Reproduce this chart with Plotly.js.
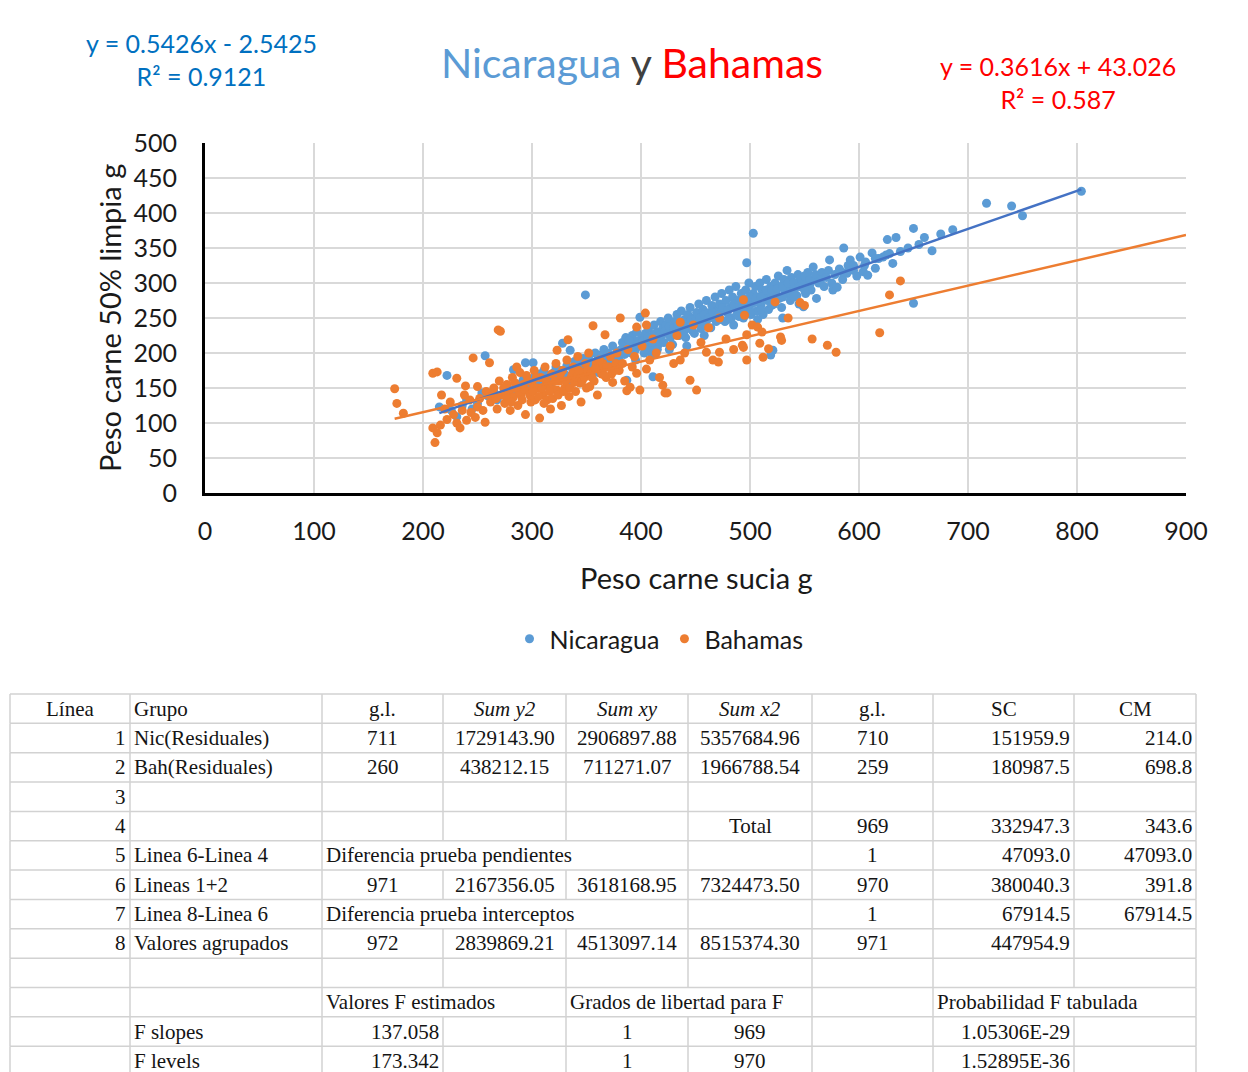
<!DOCTYPE html>
<html>
<head>
<meta charset="utf-8">
<script src="https://cdn.plot.ly/plotly-3.0.1.min.js"></script>
<style>
  html, body { margin: 0; padding: 0; background: #ffffff; }
  #chart { width: 1248px; height: 1072px; }
</style>
</head>
<body>
<div id="chart"></div>
<script>
// Peso carne sucia (g) vs peso carne 50% limpia (g), two origins

const nicPoints = [
  [215,123],[222,168],[231,109],[240,133],[254,143],[257,196],[268,133],[245,120],[250,128],[260,138],
  [265,145],[272,140],[278,150],[283,176],[285,148],[288,155],[292,162],[294,186],[297,150],[299,158],
  [236,125],[226,118],
  [301,186],[302,165],[305,160],[307,170],[309,155],[311,175],[313,163],[315,168],[318,158],[320,172],
  [322,180],[324,165],[326,175],[328,214],[330,170],[332,182],[334,160],[335,204],[337,178],[339,188],
  [341,170],[343,185],[345,175],[347,192],[349,283],[350,180],[352,195],[354,186],[356,178],[358,200],
  [360,190],[362,183],[364,198],[366,205],[368,190],[370,200],[372,185],[374,210],[376,195],[378,202],
  [380,190],[316,150],[333,150],[346,168],[361,172],
  [382,205],[383,215],[385,198],[386,222],[387,161],[388,208],[390,212],[391,200],[392,225],[394,215],
  [395,205],[396,230],[398,218],[399,251],[400,210],[401,222],[403,200],[404,228],[405,215],[407,235],
  [408,220],[409,208],[411,166],[411,225],[412,240],[414,218],[415,230],[416,212],[418,245],[419,225],
  [420,235],[421,215],[423,240],[424,228],[425,250],[427,222],[428,238],[429,212],[431,245],[432,232],
  [433,255],[435,225],[436,240],[437,260],[439,230],[440,248],[441,222],[443,255],[444,238],[445,265],
  [447,232],[448,250],[449,228],[451,258],[452,242],[453,270],[455,235],[456,252],[457,262],[459,240],
  [460,275],[461,248],[463,258],[464,236],[465,268],[467,250],[468,280],[469,245],[470,260],[426,205],
  [442,210],[458,225],[395,190],[410,198],
  [384,200],[389,218],[393,208],[397,212],[402,218],[406,222],[410,215],[413,228],[417,225],[422,232],
  [426,238],[430,235],[434,240],[438,245],[442,240],[446,248],[450,245],[454,250],[458,255],[462,250],
  [466,258],[404,205],[415,205],[428,228],[440,232],
  [471,255],[472,270],[473,248],[474,285],[476,262],[477,245],[478,275],[479,258],[481,290],[482,265],
  [483,250],[484,280],[486,268],[487,295],[488,255],[489,275],[491,262],[492,285],[493,270],[494,250],
  [496,290],[497,329],[497,262],[498,278],[499,300],[500,268],[501,255],[503,371],[503,285],[504,272],
  [505,295],[506,260],[508,280],[509,300],[510,268],[511,290],[512,255],[514,285],[515,305],[516,275],
  [517,262],[519,197],[519,295],[520,282],[521,204],[522,270],[523,300],[524,288],[526,310],[527,278],
  [528,295],[529,265],[531,305],[532,285],[534,318],[534,285],[536,295],[537,275],[538,308],[540,290],
  [541,300],[543,282],[544,312],[546,307],[547,295],[549,266],[550,300],[551,285],[553,315],[555,298],
  [556,290],[558,323],[559,305],[561,278],[561,304],[485,240],[507,248],[530,250],[545,270],
  [475,265],[480,262],[485,270],[490,268],[495,275],[500,280],[505,278],[510,280],[515,290],[520,290],
  [525,292],[530,295],[535,300],[540,300],[545,295],[550,310],[555,305],[560,312],[480,248],[490,252],
  [500,258],[510,262],[520,268],[530,280],[540,280],[550,290],
  [563,300],[566,315],[568,295],[572,318],[573,333],[576,290],[578,312],[580,294],[582,320],[585,305],
  [586,350],[589,314],[590,325],[592,333],[595,318],[598,310],[601,337],[604,316],[606,330],[608,311],
  [612,343],[615,321],[618,335],[622,337],[626,362],[628,342],[631,328],[634,365],[638,345],[645,350],
  [650,378],[650,271],[655,355],[660,365],[667,346],[675,370],[686,376],[717,414],[740,410],[750,396],
  [804,431],[565,305],[570,308],[575,300],[585,315],[595,325],[605,325],[615,335],[625,340]
];

const bahPoints = [
  [174,149],[176,128],[182,114],[209,171],[213,173],[246,193],[231,164],[239,153],[217,140],[209,93],
  [211,72],[213,86],[216,97],[231,100],[234,93],[240,104],[257,101],[269,233],[261,186],[250,152],
  [243,133],[250,123],[220,120],[225,130],[228,112],[236,118],[238,140],[244,115],[248,108],[252,135],
  [255,118],[258,145],[222,105],
  [262,130],[265,150],[268,120],[270,160],[271,231],[272,140],[275,128],[277,155],[279,145],[280,118],
  [282,165],[283,137],[285,150],[287,125],[289,172],[290,140],[292,155],[294,112],[295,168],[297,145],
  [299,130],[300,158],[302,175],[303,133],[305,150],[307,107],[308,165],[310,140],[312,180],[314,133],
  [315,155],[317,120],[318,170],[320,148],[322,185],[323,147],[323,204],[325,160],[327,125],[328,175],
  [330,150],[332,190],[333,219],[334,138],[336,165],[338,180],[340,145],[342,195],[344,157],[345,130],
  [347,172],[349,185],[350,150],[353,152],[356,239],[352,200],[286,180],
  [264,140],[267,135],[274,150],[276,138],[281,130],[284,158],[288,145],[291,133],[293,148],[296,160],
  [298,140],[301,145],[304,165],[306,138],[309,150],[311,128],[313,160],[316,145],[319,135],[321,160],
  [324,140],[326,170],[329,145],[331,160],[335,150],[337,170],[339,158],[341,165],[343,175],[346,160],
  [348,165],[351,175],[354,170],[357,160],[359,185],[363,175],[365,185],[368,165],[371,180],[373,170],
  [377,185],[380,175],
  [355,165],[358,178],[360,140],[362,190],[364,170],[366,169],[367,226],[369,180],[372,195],[374,158],
  [376,175],[378,200],[381,250],[383,185],[385,160],[387,146],[388,205],[390,151],[392,180],[394,195],
  [396,171],[396,237],[399,147],[401,210],[404,257],[405,240],[405,177],[408,190],[411,220],[414,200],
  [417,165],[420,154],[422,143],[424,143],[427,210],[430,185],[433,225],[436,244],[436,190],[440,200],
  [445,161],[448,240],[451,147],
  [455,215],[460,201],[462,236],[466,190],[471,187],[472,201],[472,250],[478,220],[485,205],[493,211],
  [494,208],[494,276],[495,254],[497,226],[497,190],[502,240],[507,237],[509,214],[511,230],[512,194],
  [517,206],[523,273],[528,223],[529,218],[535,250],[546,272],[550,268],[557,220],[571,211],[579,201],
  [619,229],[628,283],[638,303]
];

// Linear trend lines as printed on the chart
const nicFit = { slope: 0.5426, intercept: -2.5425, r2: '0.9121' };
const bahFit = { slope: 0.3616, intercept: 43.026, r2: '0.587' };
const bahForecastEnd = 900;

const xTicks = [0, 100, 200, 300, 400, 500, 600, 700, 800, 900];
const yTicks = [0, 50, 100, 150, 200, 250, 300, 350, 400, 450, 500];

// Statistics table (comparison of regressions)
const tableHeader = ['Línea', 'Grupo', 'g.l.', 'Sum y2', 'Sum xy', 'Sum x2', 'g.l.', 'SC', 'CM'];
const tableRows = [
  ['1', 'Nic(Residuales)', '711', '1729143.90', '2906897.88', '5357684.96', '710', '151959.9', '214.0'],
  ['2', 'Bah(Residuales)', '260', '438212.15', '711271.07', '1966788.54', '259', '180987.5', '698.8'],
  ['3', '', '', '', '', '', '', '', ''],
  ['4', '', '', '', '', 'Total', '969', '332947.3', '343.6'],
  ['5', 'Linea 6-Linea 4', 'Diferencia prueba pendientes', '', '', '', '1', '47093.0', '47093.0'],
  ['6', 'Lineas 1+2', '971', '2167356.05', '3618168.95', '7324473.50', '970', '380040.3', '391.8'],
  ['7', 'Linea 8-Linea 6', 'Diferencia prueba interceptos', '', '', '', '1', '67914.5', '67914.5'],
  ['8', 'Valores agrupados', '972', '2839869.21', '4513097.14', '8515374.30', '971', '447954.9', ''],
  ['', '', '', '', '', '', '', '', ''],
  ['', '', 'Valores F estimados', '', 'Grados de libertad para F', '', '', 'Probabilidad F tabulada', ''],
  ['', 'F slopes', '137.058', '', '1', '969', '', '1.05306E-29', ''],
  ['', 'F levels', '173.342', '', '1', '970', '', '1.52895E-36', '']
];
const italicHeader = [false, false, false, true, true, true, false, false, false];
// text that runs over into neighbouring empty cells: [row, firstCol, nCols]
const overflowSpans = [[5, 2, 3], [7, 2, 3], [10, 2, 2], [10, 4, 2], [10, 7, 2]];

// ---- page geometry (pixels) ----
const W = 1248, H = 1072;
const plotL = 205, plotR = 1186, plotT = 143, plotB = 493;
const colEdges = [10, 130, 322, 443, 566, 688, 812, 933, 1074, 1196];
const rowTop = 694, rowH = 29.35;
const px = x => x / W;
const py = y => 1 - y / H;

const sans = 'Lato, "Open Sans", sans-serif';
const serif = '"Liberation Serif", "DejaVu Serif", serif';

const nicX = nicPoints.map(p => p[0]), nicY = nicPoints.map(p => p[1]);
const bahX = bahPoints.map(p => p[0]), bahY = bahPoints.map(p => p[1]);

const nicLineX = [Math.min(...nicX), Math.max(...nicX)];
const nicLineY = nicLineX.map(x => nicFit.slope * x + nicFit.intercept);
const bahLineX = [Math.min(...bahX), bahForecastEnd];
const bahLineY = bahLineX.map(x => bahFit.slope * x + bahFit.intercept);

const fmtEq = f => 'y = ' + f.slope + 'x ' + (f.intercept < 0 ? '- ' : '+ ') + Math.abs(f.intercept);

const traces = [
  { type: 'scatter', mode: 'markers', name: 'Nicaragua', x: nicX, y: nicY,
    marker: { color: '#5b9bd5', size: 9 }, hoverinfo: 'x+y' },
  { type: 'scatter', mode: 'markers', name: 'Bahamas', x: bahX, y: bahY,
    marker: { color: '#ed7d31', size: 9 }, hoverinfo: 'x+y' },
  { type: 'scatter', mode: 'lines', x: nicLineX, y: nicLineY, showlegend: false,
    line: { color: '#4472c4', width: 2.5 }, hoverinfo: 'skip' },
  { type: 'scatter', mode: 'lines', x: bahLineX, y: bahLineY, showlegend: false,
    line: { color: '#ed7d31', width: 2.5 }, hoverinfo: 'skip' }
];

// ---- table shapes and text ----
const shapes = [];
const annotations = [];
const nRows = tableRows.length + 1;
const lineStyle = { color: '#d2d2d2', width: 1.5 };

for (let k = 0; k <= nRows; k++) {
  const y = rowTop + k * rowH;
  shapes.push({ type: 'line', xref: 'paper', yref: 'paper',
    x0: px(colEdges[0]), x1: px(colEdges[colEdges.length - 1]), y0: py(y), y1: py(y), line: lineStyle });
}
for (let r = 0; r < nRows; r++) {
  for (let e = 0; e < colEdges.length; e++) {
    const hidden = overflowSpans.some(s => s[0] === r && e > s[1] && e < s[1] + s[2]);
    if (hidden) continue;
    shapes.push({ type: 'line', xref: 'paper', yref: 'paper',
      x0: px(colEdges[e]), x1: px(colEdges[e]),
      y0: py(rowTop + r * rowH), y1: py(rowTop + (r + 1) * rowH), line: lineStyle });
  }
}

function cellAlign(r, c, t) {
  if (r === 0) return c === 1 ? 'left' : 'center';
  const isNum = /^[0-9.E+-]+$/.test(t);
  if (!isNum) return t === 'Total' ? 'center' : 'left';
  if (c === 0 || c === 7 || c === 8) return 'right';
  if (c === 2 && r >= 10) return 'right';
  return 'center';
}

const allRows = [tableHeader].concat(tableRows);
allRows.forEach((row, r) => {
  row.forEach((t, c) => {
    if (!t) return;
    const al = cellAlign(r, c, t);
    let x;
    if (al === 'left') x = colEdges[c] + 3;
    else if (al === 'right') x = colEdges[c + 1] - 3;
    else x = (colEdges[c] + colEdges[c + 1]) / 2;
    const txt = (r === 0 && italicHeader[c]) ? '<i>' + t + '</i>' : t;
    annotations.push({ xref: 'paper', yref: 'paper', x: px(x), y: py(rowTop + (r + 0.5) * rowH),
      xanchor: al, yanchor: 'middle', showarrow: false, text: txt, borderpad: 0,
      font: { family: serif, size: 21, color: '#141414' } });
  });
});

// ---- chart texts ----
annotations.push({ xref: 'paper', yref: 'paper', x: px(201), y: py(60), xanchor: 'center', yanchor: 'middle',
  showarrow: false, align: 'center', text: fmtEq(nicFit) + '<br>R² = ' + nicFit.r2,
  font: { family: sans, size: 25, color: '#0070c0' } });
annotations.push({ xref: 'paper', yref: 'paper', x: px(1058), y: py(82), xanchor: 'center', yanchor: 'middle',
  showarrow: false, align: 'center', text: fmtEq(bahFit) + '<br>R² = ' + bahFit.r2,
  font: { family: sans, size: 25, color: '#ff0000' } });
annotations.push({ xref: 'paper', yref: 'paper', x: px(696), y: py(577), xanchor: 'center', yanchor: 'middle',
  showarrow: false, text: 'Peso carne sucia g', font: { family: sans, size: 29, color: '#1a1a1a' } });
annotations.push({ xref: 'paper', yref: 'paper', x: px(110), y: py(318), xanchor: 'center', yanchor: 'middle',
  showarrow: false, textangle: -90, text: 'Peso carne 50% limpia g', font: { family: sans, size: 29, color: '#1a1a1a' } });

const layout = {
  width: W, height: H,
  margin: { l: 0, r: 0, t: 0, b: 0 },
  paper_bgcolor: '#ffffff', plot_bgcolor: '#ffffff',
  title: {
    text: '<span style="color:#5b9bd5">Nicaragua</span> <span style="color:#404040">y</span> <span style="color:#ff0000">Bahamas</span>',
    x: px(632), y: py(64), xanchor: 'center', yanchor: 'middle',
    font: { family: sans, size: 41 }
  },
  xaxis: {
    domain: [px(plotL), px(plotR)], range: [0, 900],
    tickvals: xTicks, ticktext: xTicks.map(String),
    showgrid: true, gridcolor: '#d9d9d9', gridwidth: 2, zeroline: false,
    showline: true, linecolor: '#000000', linewidth: 3,
    ticks: '', ticklabelstandoff: 14,
    tickfont: { family: sans, size: 25, color: '#1a1a1a' }, fixedrange: true
  },
  yaxis: {
    domain: [py(plotB), py(plotT)], range: [0, 500],
    tickvals: yTicks, ticktext: yTicks.map(String),
    showgrid: true, gridcolor: '#d9d9d9', gridwidth: 2, zeroline: false,
    showline: true, linecolor: '#000000', linewidth: 3,
    ticks: '', ticklabelstandoff: 20,
    tickfont: { family: sans, size: 25, color: '#1a1a1a' }, fixedrange: true
  },
  showlegend: true,
  legend: {
    orientation: 'h', x: px(659), y: py(639), xanchor: 'center', yanchor: 'middle',
    font: { family: sans, size: 25, color: '#1a1a1a' }, bgcolor: 'rgba(0,0,0,0)'
  },
  shapes: shapes,
  annotations: annotations
};

Plotly.newPlot('chart', traces, layout, { displayModeBar: false, staticPlot: true });
</script>
</body>
</html>
